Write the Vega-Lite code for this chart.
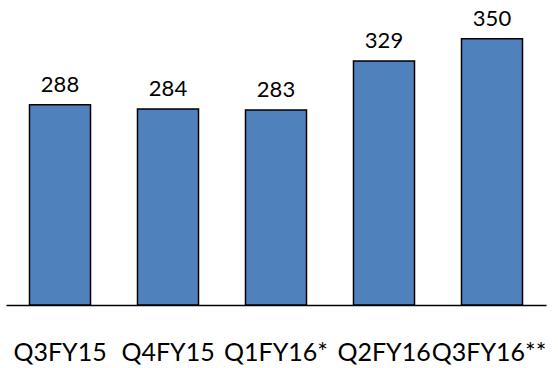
{
  "$schema": "https://vega.github.io/schema/vega-lite/v6.json",
  "width": 540,
  "height": 295,
  "autosize": {"type": "none"},
  "padding": {"left": 6, "top": 10, "right": 12, "bottom": 63},
  "background": "white",
  "config": {"view": {"stroke": null}, "font": "Lato"},
  "data": {
    "values": [
      {"quarter": "Q3FY15", "value": 288, "base": 100},
      {"quarter": "Q4FY15", "value": 284, "base": 100},
      {"quarter": "Q1FY16*", "value": 283, "base": 100},
      {"quarter": "Q2FY16", "value": 329, "base": 100},
      {"quarter": "Q3FY16**", "value": 350, "base": 100}
    ]
  },
  "encoding": {
    "x": {
      "field": "quarter",
      "type": "nominal",
      "sort": null,
      "scale": {"paddingInner": 0.435, "paddingOuter": 0.2175},
      "axis": {
        "title": null,
        "labelAngle": 0,
        "labelFont": "Lato",
        "labelFontSize": 25,
        "labelColor": "#000000",
        "labelPadding": 35,
        "labelOverlap": false,
        "labelBound": false,
        "labelFlush": false,
        "labelOffset": {"condition": {"test": "datum.value === 'Q3FY16**'", "value": -3}, "value": 0},
        "ticks": false,
        "domainColor": "#000000",
        "domainWidth": 1.5,
        "grid": false
      }
    }
  },
  "layer": [
    {
      "mark": {"type": "bar", "fill": "#4f81bd", "stroke": "#000000", "strokeWidth": 1.5},
      "encoding": {
        "y": {
          "field": "value",
          "type": "quantitative",
          "scale": {"domain": [100, 377], "zero": false, "nice": false},
          "axis": null
        },
        "y2": {"field": "base"}
      }
    },
    {
      "mark": {"type": "text", "font": "Lato", "fontSize": 22, "color": "#000000", "baseline": "alphabetic", "dy": -13},
      "encoding": {
        "y": {"field": "value", "type": "quantitative"},
        "text": {"field": "value", "type": "quantitative"}
      }
    }
  ]
}
